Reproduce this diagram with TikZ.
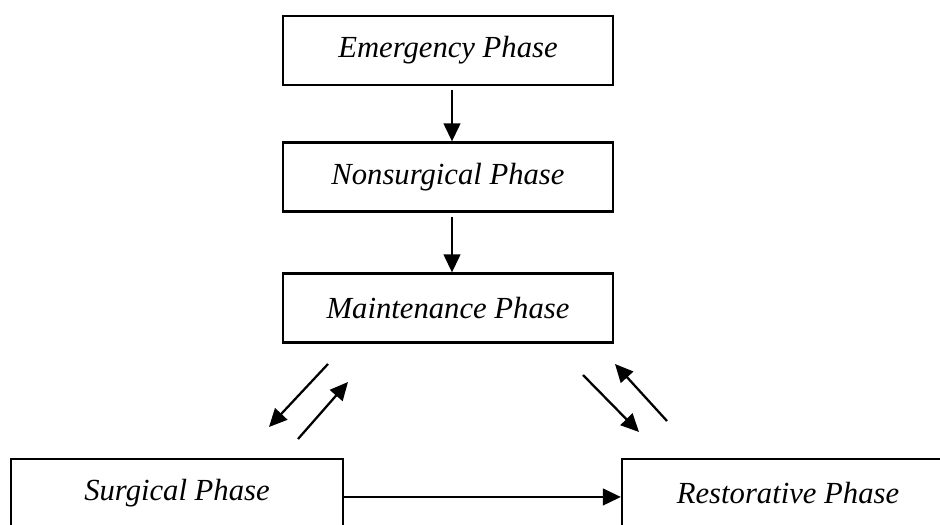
\documentclass[tikz,border=0pt]{standalone}
\usepackage{fontspec}
\setmainfont{Liberation Serif}
\usetikzlibrary{arrows.meta}

\tikzset{
  phasebox/.style={draw=black, line width=1.7pt, minimum width=247.5pt, minimum height=51.75pt,
    inner sep=0pt, font=\fontsize{23}{27}\selectfont\itshape},
  flow/.style={black, line width=1.7pt, -{Triangle[length=13.5pt, width=12.5pt]}}
}

\begin{document}
\begin{tikzpicture}[x=0.75pt, y=-0.75pt]

\useasboundingbox (0,0) rectangle (940,525);
\clip (0,0) rectangle (940,525);

% Phasen
\node[phasebox] (emergency) at (448,50.5) {Emergency Phase};
\node[phasebox] (nonsurgical) at (448,177) {Nonsurgical Phase};
\node[phasebox] (maintenance) at (448,308) {Maintenance Phase};
\node[phasebox, minimum width=249pt] (surgical) at (177,493.5) {Surgical Phase};
\node[phasebox, minimum width=249pt] (restorative) at (788,493.5) {Restorative Phase};

% senkrechte Pfeile
\draw[flow] ([xshift=3pt, yshift=-3pt]emergency.south) -- ([xshift=3pt]nonsurgical.north);
\draw[flow] ([xshift=3pt, yshift=-3pt]nonsurgical.south) -- ([xshift=3pt]maintenance.north);

% schraege Pfeile
\coordinate (l1a) at (328,364);
\coordinate (l1b) at (269,427);
\coordinate (l2a) at (298,439);
\coordinate (l2b) at (348,382);
\coordinate (r1a) at (583,375);
\coordinate (r1b) at (639,432);
\coordinate (r2a) at (667,421);
\coordinate (r2b) at (615,364);

\draw[flow] (l1a) -- (l1b);
\draw[flow] (l2a) -- (l2b);
\draw[flow] (r1a) -- (r1b);
\draw[flow] (r2a) -- (r2b);

% waagrechter Pfeil
\draw[flow] ([yshift=-2.6pt]surgical.east) -- ([yshift=-2.6pt]restorative.west);

\end{tikzpicture}
\end{document}
